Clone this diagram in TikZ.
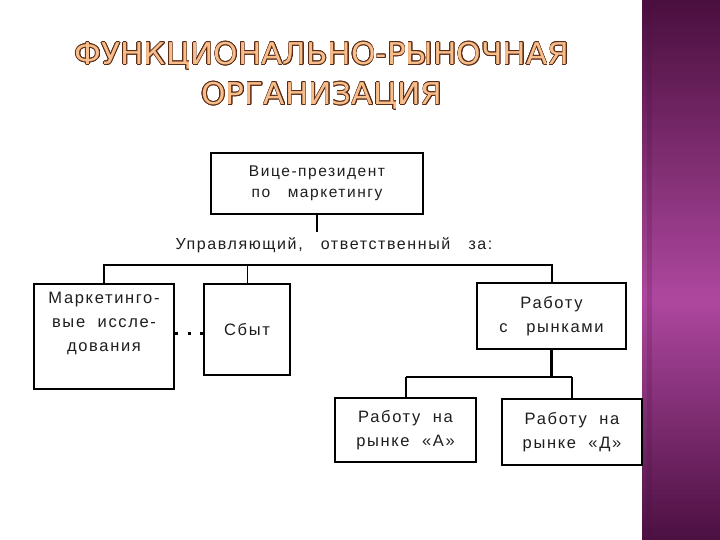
\documentclass[tikz,border=0pt]{standalone}
\usepackage{fontspec}
\setmainfont{Liberation Sans}
\newfontfamily\boxfont{Liberation Sans}[LetterSpace=10]
\newfontfamily\titlefont{DejaVu Sans}
\usepackage{contour}
\contourlength{0.6pt}
\usetikzlibrary{positioning}

\definecolor{titlefill}{HTML}{F7BE8C}
\definecolor{titleline}{HTML}{5A2A14}
\definecolor{bandtop}{HTML}{4A0F3E}
\definecolor{bandmid}{HTML}{AE489F}
\definecolor{bandbot}{HTML}{4C1042}
\definecolor{inktext}{HTML}{1E1E1E}

\tikzset{
  orgbox/.style={draw=black, line width=2.6pt, fill=white, align=center, text=inktext,
    font=\boxfont\fontsize{16.5}{24}\selectfont, inner sep=2pt},
  thinbox/.style={orgbox, line width=1.6pt},
  titletext/.style={font=\titlefont\fontsize{30}{30}\selectfont, inner sep=0pt},
  busline/.style={line width=2pt},
  dotline/.style={line width=3pt, dash pattern=on 3pt off 9.2pt}
}

\begin{document}
\begin{tikzpicture}[x=1pt, y=-1pt]
\useasboundingbox (0,0) rectangle (720,540);
% ---- page and side band
\fill[white] (0,0) rectangle (642,540);
\foreach \i in {0,...,179} {
  \ifnum\i<99
    \pgfmathtruncatemacro\p{100*\i/99}
    \colorlet{stripe}{bandmid!\p!bandtop}
  \else
    \pgfmathtruncatemacro\p{100*(\i-99)/80}
    \colorlet{stripe}{bandbot!\p!bandmid}
  \fi
  \fill[stripe] (642,\i*3) rectangle (720,\i*3+4);
}
\fill[bandtop, opacity=0.2] (647,0) rectangle (652,540);

% ---- title
\node[titletext] (title1) at (322,56) {\scalebox{1.04}[1]{\textcolor{titlefill}{\contour{titleline}{ФУНКЦИОНАЛЬНО-РЫНОЧНАЯ}}}};
\node[titletext] (title2) at (322,96) {\scalebox{1.04}[1]{\textcolor{titlefill}{\contour{titleline}{ОРГАНИЗАЦИЯ}}}};

% ---- boxes
\node[orgbox, minimum width=212pt, minimum height=61pt, font=\boxfont\fontsize{15.5}{21}\selectfont] (vp) at (317,183.5) {Вице-президент\\по\ \ \ маркетингу};
\node[text=inktext, font=\boxfont\fontsize{16}{18}\selectfont, inner sep=0pt] (resp) at (334,245) {Управляющий,\ \ \ ответственный\ \ \ за:};
\node[orgbox, minimum width=140pt, minimum height=105pt] (mr) at (104,336.5) {Маркетинго-\\вые\ \ исcле-\\дования\\[6pt]};
\node[orgbox, minimum width=86pt, minimum height=91pt] (sales) at (247,329.5) {Сбыт};
\node[orgbox, minimum width=149pt, minimum height=66pt] (mkt) at (551.5,316) {Работу\\с\ \ \ рынками};
\node[thinbox, minimum width=141pt, minimum height=64pt] (mka) at (405.5,430) {Работу\ \ на\\рынке\ \ «А»};
\node[thinbox, minimum width=140pt, minimum height=66pt] (mkd) at (572,432) {Работу\ \ на\\рынке\ \ «Д»};

% ---- connectors
\coordinate (stem) at (317,232);
\coordinate (bus) at (0,265);
\coordinate (lowbus) at (0,377);
\draw[busline, line width=2.6pt] (vp.south) -- (stem);
\draw[busline] (mr.north) -- (mr.north |- bus) -- (mkt.north |- bus) -- (mkt.north);
\draw[line width=1pt] (sales.north) -- (sales.north |- bus);
\draw[dotline] (mr.east |- 0,333) -- (sales.west |- 0,333);
\draw[busline, line width=2.6pt] (mkt.south) -- (mkt.south |- lowbus);
\draw[busline, line width=2.6pt] (mka.north |- lowbus) -- (mkd.north |- lowbus);
\draw[busline] (mka.north) -- (mka.north |- lowbus);
\draw[busline] (mkd.north) -- (mkd.north |- lowbus);
\end{tikzpicture}
\end{document}
